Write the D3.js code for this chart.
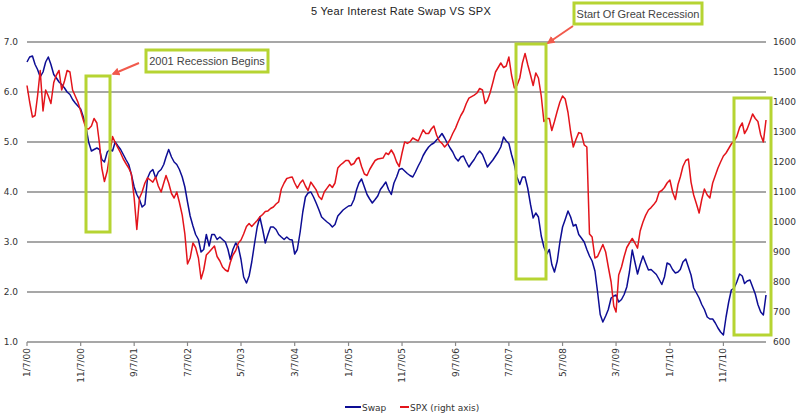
<!DOCTYPE html>
<html>
<head>
<meta charset="utf-8">
<script src="https://cdn.jsdelivr.net/npm/d3@7"></script>
<style>
  body { margin: 0; background: #fff; }
  svg { display: block; font-family: 'Liberation Sans', Arial, sans-serif; }
  .tick-label { font-family: 'DejaVu Sans', Verdana, sans-serif; font-size: 9px; fill: #333; }
</style>
</head>
<body>
<div id="chart"></div>
<script>
// twice-monthly readings (7th and 22nd), first point 1/7/00
const startDate = new Date(2000, 0, 7);

// 5 year swap rate (left axis, %)
const swap = [
  6.6, 6.7, 6.72, 6.55, 6.45, 6.3, 6.4, 6.6, 6.7, 6.55, 6.35, 6.28,
  6.2, 6.15, 6.08, 6.0, 5.95, 5.85, 5.78, 5.72, 5.66, 5.5, 5.3, 5.0,
  4.82, 4.85, 4.88, 4.85, 4.65, 4.6, 4.8, 4.85, 4.82, 5.0, 4.92, 4.85,
  4.75, 4.65, 4.55, 4.35, 4.1, 3.95, 3.85, 3.7, 3.75, 4.28, 4.4, 4.45,
  4.28, 4.4, 4.45, 4.55, 4.7, 4.85, 4.7, 4.6, 4.55, 4.45, 4.3, 4.1,
  3.8, 3.52, 3.32, 3.15, 3.05, 2.8, 2.85, 3.15, 2.92, 3.15, 3.15, 3.05,
  3.1, 3.05, 3.0, 2.85, 2.65, 2.85, 2.98, 2.9, 2.65, 2.3, 2.18, 2.32,
  2.6, 2.95, 3.3, 3.5, 3.25, 2.98, 3.15, 3.3, 3.3, 3.25, 3.15, 3.1,
  3.05, 3.1, 3.05, 3.04, 2.76, 2.85, 3.2, 3.6, 3.9, 3.98, 4.0, 3.9,
  3.78, 3.65, 3.5, 3.45, 3.4, 3.36, 3.3, 3.35, 3.52, 3.58, 3.64, 3.68,
  3.72, 3.73, 3.85, 4.05, 4.18, 4.26, 4.1, 3.95, 3.86, 3.78, 3.85, 3.92,
  4.05, 4.12, 4.2, 4.05, 3.95, 4.18, 4.3, 4.45, 4.47, 4.42, 4.37, 4.33,
  4.3, 4.4, 4.52, 4.62, 4.73, 4.82, 4.9, 4.95, 4.98, 5.04, 5.1, 5.17,
  5.08, 4.98, 4.88, 4.8, 4.68, 4.62, 4.7, 4.72, 4.6, 4.5, 4.58, 4.65,
  4.75, 4.82, 4.75, 4.62, 4.5, 4.57, 4.64, 4.72, 4.8, 4.9, 5.1, 5.02,
  4.97, 4.75, 4.55, 4.3, 4.15, 4.3, 4.3, 4.08, 3.75, 3.48, 3.58, 3.5,
  3.12, 2.9, 2.76, 2.85, 2.55, 2.4, 2.62, 3.0, 3.3, 3.45, 3.62, 3.5,
  3.32, 3.35, 3.15, 3.08, 3.0, 2.85, 2.72, 2.62, 2.42, 2.0, 1.55, 1.4,
  1.52, 1.65, 1.88, 1.92, 1.94, 1.8, 1.85, 1.95, 2.1, 2.4, 2.84, 2.6,
  2.36, 2.55, 2.72, 2.58, 2.44, 2.45, 2.4, 2.35, 2.25, 2.15, 2.3, 2.58,
  2.55, 2.45, 2.38, 2.4, 2.45, 2.6, 2.66, 2.5, 2.34, 2.08, 1.98, 1.88,
  1.75, 1.65, 1.5, 1.46, 1.46, 1.38, 1.28, 1.2, 1.14, 1.5, 1.8, 2.04,
  2.08, 2.2, 2.36, 2.32, 2.17, 2.22, 2.24, 2.1, 1.96, 1.75, 1.6, 1.54,
  1.94
];

// S&P 500 (right axis)
const spx = [
  1455, 1400, 1350, 1355, 1420, 1505, 1370, 1440, 1420, 1395, 1465, 1490,
  1505, 1440, 1470, 1505, 1500, 1440, 1420, 1400, 1370, 1340, 1312, 1310,
  1320, 1345, 1330, 1260, 1180, 1135, 1170, 1230, 1285, 1265, 1247, 1230,
  1210, 1195, 1180, 1160, 1080, 975, 1080, 1100, 1130, 1147, 1140, 1133,
  1150, 1120, 1100, 1130, 1155, 1130, 1095, 1080, 1100, 1065, 1023, 960,
  860, 880, 930, 915, 880, 810, 840, 890, 900, 910, 920, 885,
  870, 850, 840, 835, 865, 890, 905, 930, 940, 960, 985, 995,
  985, 995, 1005, 1017, 1025, 1035, 1037, 1045, 1050, 1060, 1067, 1110,
  1130, 1145, 1148, 1150, 1130, 1113, 1130, 1140, 1120, 1105, 1133, 1120,
  1107, 1085, 1075, 1100, 1113, 1125, 1115, 1130, 1180, 1190, 1197, 1205,
  1205, 1190, 1195, 1210, 1215, 1185, 1160, 1155, 1175, 1190, 1205, 1210,
  1212, 1213, 1230, 1225, 1240, 1225, 1200, 1185, 1230, 1267, 1262, 1267,
  1280, 1275, 1270, 1290, 1307, 1295, 1295, 1310, 1320, 1290, 1270, 1262,
  1250, 1260, 1275, 1295, 1313, 1335, 1355, 1370, 1395, 1413, 1418, 1423,
  1430, 1445, 1440, 1395, 1405, 1430, 1465, 1500, 1515, 1530, 1515, 1520,
  1550, 1490, 1447, 1455, 1480, 1530, 1562, 1525, 1490, 1455, 1497, 1480,
  1420, 1335, 1345, 1345, 1305, 1335, 1370, 1400, 1420, 1410, 1365, 1300,
  1250, 1275, 1298, 1295, 1257, 1250, 960, 950, 880, 885, 905, 925,
  900, 850, 800, 720, 700, 823, 850, 885, 915, 930, 945, 930,
  913, 970, 1000, 1022, 1040, 1048, 1058, 1070, 1100, 1105, 1115, 1130,
  1140, 1100, 1075, 1125, 1150, 1185, 1205, 1210, 1133, 1090, 1060, 1030,
  1075, 1110, 1090, 1080, 1130, 1155, 1180, 1200, 1220, 1230, 1245, 1260,
  1270, 1285, 1315, 1330, 1295, 1310, 1335, 1360, 1345, 1335, 1290, 1267,
  1340
];

const leftTicks = [1, 2, 3, 4, 5, 6, 7];
const rightTicks = [600, 700, 800, 900, 1000, 1100, 1200, 1300, 1400, 1500, 1600];
const dateTicks = ['1/7/00', '11/7/00', '9/7/01', '7/7/02', '5/7/03', '3/7/04', '1/7/05',
  '11/7/05', '9/7/06', '7/7/07', '5/7/08', '3/7/09', '1/7/10', '11/7/10'];

const width = 800;
const height = 417;
const plot = { left: 27, right: 766, top: 42, bottom: 342 };

const parseDate = d3.timeParse('%m/%d/%y');
const dates = swap.map((d, i) =>
  d3.timeDay.offset(d3.timeMonth.offset(startDate, Math.floor(i / 2)), (i % 2) * 15));

const x = d3.scaleTime()
  .domain([startDate, dates[dates.length - 1]])
  .range([plot.left, plot.right]);
const yLeft = d3.scaleLinear().domain([1, 7]).range([plot.bottom, plot.top]);
const yRight = d3.scaleLinear().domain([600, 1600]).range([plot.bottom, plot.top]);

const svg = d3.select('#chart')
  .append('svg')
  .attr('width', width)
  .attr('height', height);

svg.append('defs').append('marker')
  .attr('id', 'arrow')
  .attr('viewBox', '0 0 10 10')
  .attr('refX', 8)
  .attr('refY', 5)
  .attr('markerWidth', 4)
  .attr('markerHeight', 4)
  .attr('orient', 'auto')
  .append('path')
  .attr('d', 'M0,0L10,5L0,10z')
  .attr('fill', '#f15a4c');

// title
svg.append('text')
  .attr('x', 401)
  .attr('y', 15)
  .attr('text-anchor', 'middle')
  .style('font-size', '11px')
  .style('letter-spacing', '0.3px')
  .style('fill', '#222')
  .text('5 Year Interest Rate Swap VS SPX');

// gridlines
svg.append('g')
  .selectAll('line')
  .data(leftTicks)
  .join('line')
  .attr('x1', plot.left)
  .attr('x2', plot.right)
  .attr('y1', d => yLeft(d))
  .attr('y2', d => yLeft(d))
  .attr('stroke', '#8a8a8a')
  .attr('stroke-width', 1.6);

// left axis labels
svg.append('g')
  .selectAll('text')
  .data(leftTicks)
  .join('text')
  .attr('class', 'tick-label')
  .attr('x', 18)
  .attr('y', d => yLeft(d) + 3)
  .attr('text-anchor', 'end')
  .text(d => d3.format('.1f')(d));

// right axis labels
svg.append('g')
  .selectAll('text')
  .data(rightTicks)
  .join('text')
  .attr('class', 'tick-label')
  .attr('x', 773)
  .attr('y', d => yRight(d) + 3)
  .attr('text-anchor', 'start')
  .text(d => d);

// date ticks
const xTicks = svg.append('g');
xTicks.selectAll('line')
  .data(dateTicks)
  .join('line')
  .attr('x1', d => x(parseDate(d)))
  .attr('x2', d => x(parseDate(d)))
  .attr('y1', plot.bottom)
  .attr('y2', plot.bottom + 4)
  .attr('stroke', '#8a8a8a')
  .attr('stroke-width', 1.2);
xTicks.selectAll('text')
  .data(dateTicks)
  .join('text')
  .attr('class', 'tick-label')
  .attr('transform', d => 'translate(' + (x(parseDate(d)) + 3) + ',' + (plot.bottom + 6) + ') rotate(-90)')
  .attr('text-anchor', 'end')
  .text(d => d);

// series
const swapLine = d3.line()
  .x((d, i) => x(dates[i]))
  .y(d => yLeft(d));
const spxLine = d3.line()
  .x((d, i) => x(dates[i]))
  .y(d => yRight(d));

svg.append('path')
  .datum(swap)
  .attr('d', swapLine)
  .attr('fill', 'none')
  .attr('stroke', '#0d0d94')
  .attr('stroke-width', 1.5)
  .attr('stroke-linejoin', 'round');

svg.append('path')
  .datum(spx)
  .attr('d', spxLine)
  .attr('fill', 'none')
  .attr('stroke', '#e3141b')
  .attr('stroke-width', 1.5)
  .attr('stroke-linejoin', 'round');

// annotations
const green = '#b6d432';
const boxes = [
  { x: 86, y: 76, w: 24, h: 156 },
  { x: 516, y: 44, w: 30, h: 235 },
  { x: 734, y: 98, w: 37, h: 237 }
];
svg.append('g')
  .selectAll('rect')
  .data(boxes)
  .join('rect')
  .attr('x', d => d.x)
  .attr('y', d => d.y)
  .attr('width', d => d.w)
  .attr('height', d => d.h)
  .attr('fill', 'none')
  .attr('stroke', green)
  .attr('stroke-width', 3);

const notes = [
  { x: 146, y: 50, w: 122, h: 22, text: '2001 Recession Begins', ax1: 139, ay1: 63, ax2: 113, ay2: 74 },
  { x: 574, y: 3, w: 128, h: 21, text: 'Start Of Great Recession', ax1: 573, ay1: 26, ax2: 548, ay2: 43 }
];
const noteG = svg.append('g');
noteG.selectAll('rect')
  .data(notes)
  .join('rect')
  .attr('x', d => d.x)
  .attr('y', d => d.y)
  .attr('width', d => d.w)
  .attr('height', d => d.h)
  .attr('fill', '#fff')
  .attr('stroke', green)
  .attr('stroke-width', 3);
noteG.selectAll('text')
  .data(notes)
  .join('text')
  .attr('x', d => d.x + d.w / 2)
  .attr('y', d => d.y + d.h / 2 + 4)
  .attr('text-anchor', 'middle')
  .style('font-size', '11px')
  .style('fill', '#444')
  .text(d => d.text);
noteG.selectAll('line')
  .data(notes)
  .join('line')
  .attr('x1', d => d.ax1)
  .attr('y1', d => d.ay1)
  .attr('x2', d => d.ax2)
  .attr('y2', d => d.ay2)
  .attr('stroke', '#f15a4c')
  .attr('stroke-width', 2)
  .attr('marker-end', 'url(#arrow)');

// legend
const legend = svg.append('g').attr('transform', 'translate(345,407)');
legend.append('line').attr('x1', 0).attr('x2', 16).attr('y1', 0).attr('y2', 0)
  .attr('stroke', '#0d0d94').attr('stroke-width', 2);
legend.append('text').attr('class', 'tick-label').attr('x', 17).attr('y', 3.5).text('Swap');
legend.append('line').attr('x1', 55).attr('x2', 64).attr('y1', 0).attr('y2', 0)
  .attr('stroke', '#e3141b').attr('stroke-width', 2);
legend.append('text').attr('class', 'tick-label').attr('x', 65).attr('y', 3.5).text('SPX (right axis)');
</script>
</body>
</html>
